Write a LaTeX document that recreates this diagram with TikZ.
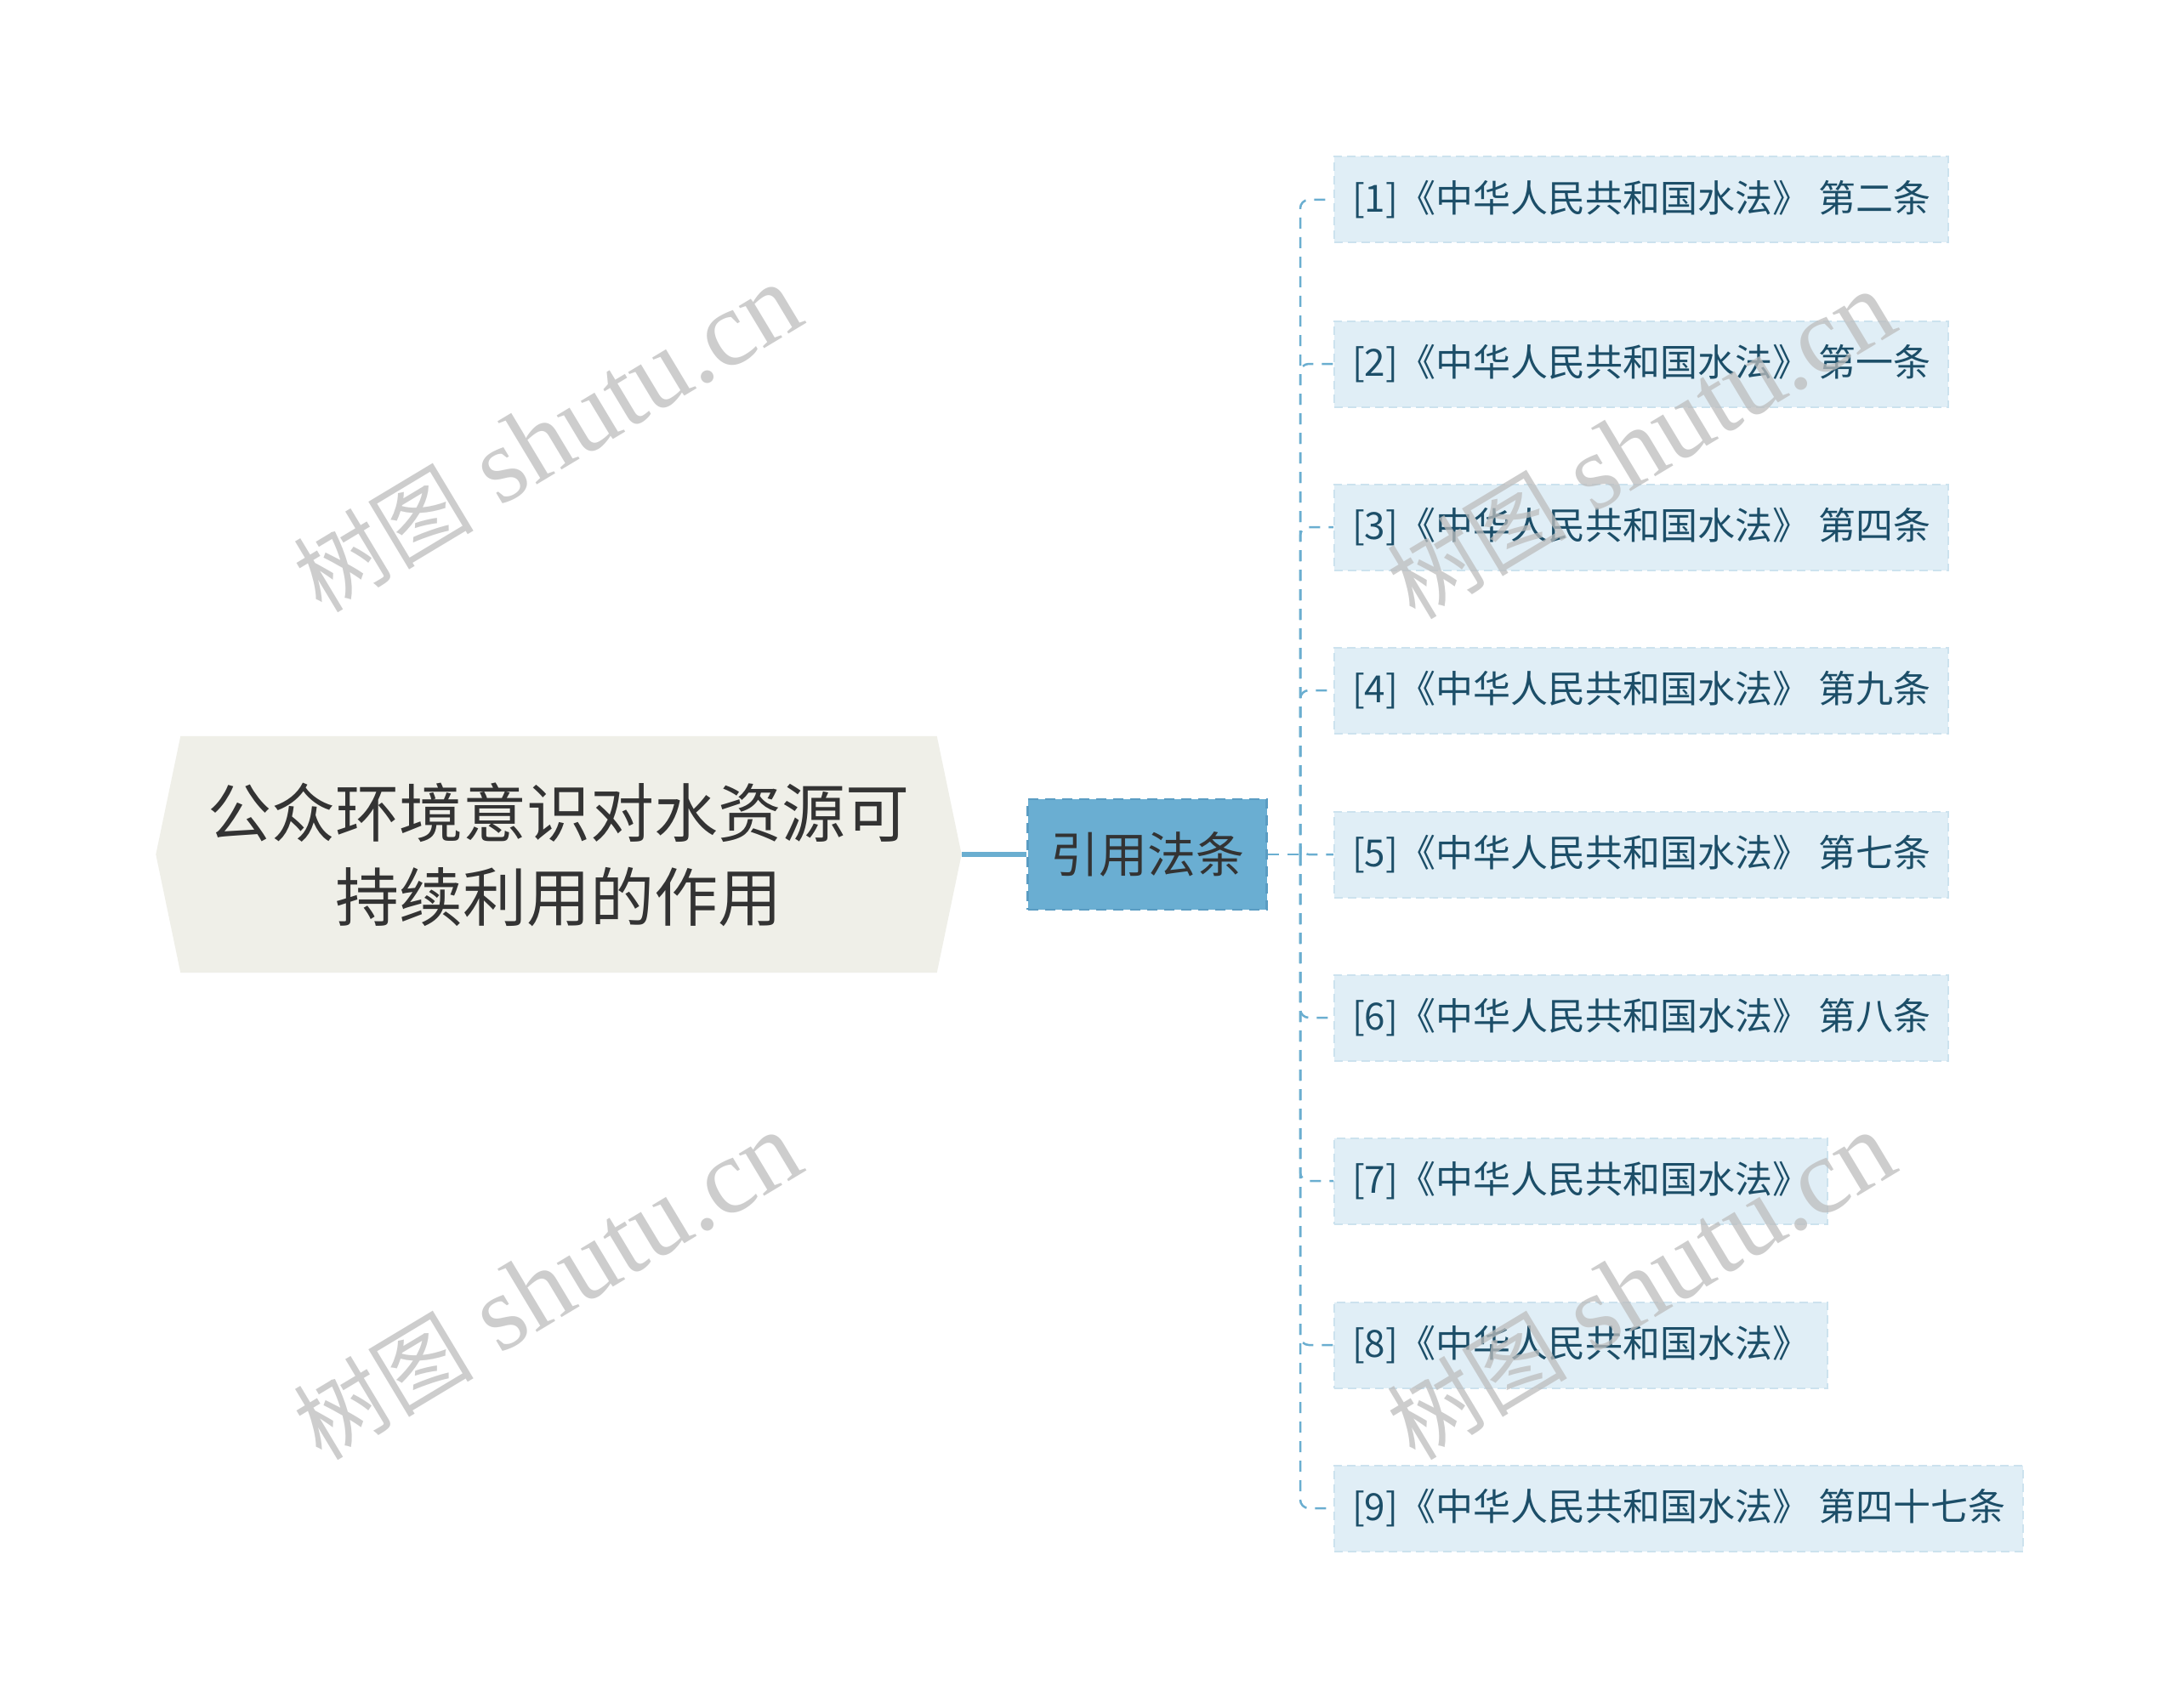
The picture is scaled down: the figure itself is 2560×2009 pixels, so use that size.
\documentclass[tikz,border=0pt]{standalone}
\usepackage{fontspec}
\setmainfont{Liberation Serif}
\newfontfamily\cjk{Noto Sans CJK SC}
\usetikzlibrary{backgrounds}

\definecolor{rootfill}{HTML}{EFEFE8}
\definecolor{roottext}{HTML}{333333}
\definecolor{lawfill}{HTML}{6AAED2}
\definecolor{lawborder}{HTML}{5A9CC2}
\definecolor{linkblue}{HTML}{6AAED0}
\definecolor{childfill}{HTML}{E0EEF6}
\definecolor{childborder}{HTML}{CCE2EE}
\definecolor{childtext}{HTML}{1C4E68}
\definecolor{wm}{HTML}{BDBDBD}

\begin{document}
\begin{tikzpicture}[x=1pt,y=-1pt,
 rootnode/.style={minimum width=947pt, minimum height=278pt, inner sep=0pt, align=center, text=roottext, font=\cjk\fontsize{75}{99}\selectfont},
 lawnode/.style={minimum width=281pt, minimum height=130pt, inner sep=0pt, fill=lawfill, draw=lawborder, line width=2.5pt, dash pattern=on 12pt off 8pt, text=roottext, font=\cjk\fontsize{57}{60}\selectfont},
 childnode/.style={anchor=west, minimum height=101pt, inner xsep=21pt, inner ysep=0pt, fill=childfill, draw=childborder, line width=2pt, dash pattern=on 10pt off 6pt, text=childtext, font=\cjk\fontsize{44}{48}\selectfont},
 mainlink/.style={draw=linkblue, line width=6pt},
 branch/.style={draw=linkblue, line width=2.5pt, dash pattern=on 13pt off 10pt, rounded corners=10pt},
 watermark/.style={text=wm, rotate=31, font=\fontsize{126}{126}\selectfont, opacity=0.75},
 wmcjk/.style={}]

\useasboundingbox (0,0) rectangle (2560,2009);

% root
\node[rootnode] (root) at (657,1005) {公众环境意识对水资源可\\持续利用的作用};
\begin{scope}[on background layer]
\fill[white] (0,0) rectangle (2560,2009);
\fill[rootfill] (root.west) -- ([xshift=29pt]root.north west) -- ([xshift=-29pt]root.north east) -- (root.east) -- ([xshift=-29pt]root.south east) -- ([xshift=29pt]root.south west) -- cycle;
\end{scope}

% law node
\node[lawnode] (law) at (1349,1005) {引用法条};
\draw[mainlink] (root.east) -- (law.west);

\coordinate (hub) at (1529,1005);

% children
\node[childnode] (c1) at (1568,235) {[1]《中华人民共和国水法》 第二条};
\node[childnode] (c2) at (1568,428) {[2]《中华人民共和国水法》 第一条};
\node[childnode] (c3) at (1568,620) {[3]《中华人民共和国水法》 第四条};
\node[childnode] (c4) at (1568,812) {[4]《中华人民共和国水法》 第九条};
\node[childnode] (c5) at (1568,1005) {[5]《中华人民共和国水法》 第七条};
\node[childnode] (c6) at (1568,1197) {[6]《中华人民共和国水法》 第八条};
\node[childnode] (c7) at (1568,1389) {[7]《中华人民共和国水法》};
\node[childnode] (c8) at (1568,1582) {[8]《中华人民共和国水法》};
\node[childnode] (c9) at (1568,1774) {[9]《中华人民共和国水法》 第四十七条};

\draw[branch] (law.east) -- (hub);
\foreach \c in {c1,c2,c3,c4,c5,c6,c7,c8,c9}
  \draw[branch] (hub) |- (\c.west);

% watermarks
\node[watermark] (wm1) at (644,516) {{\cjk\fontsize{106}{106}\selectfont 树图} shutu.cn};
\node[watermark] (wm2) at (644,1513) {{\cjk\fontsize{106}{106}\selectfont 树图} shutu.cn};
\node[watermark] (wm3) at (1930,524) {{\cjk\fontsize{106}{106}\selectfont 树图} shutu.cn};
\node[watermark] (wm4) at (1930,1513) {{\cjk\fontsize{106}{106}\selectfont 树图} shutu.cn};
\end{tikzpicture}
\end{document}
